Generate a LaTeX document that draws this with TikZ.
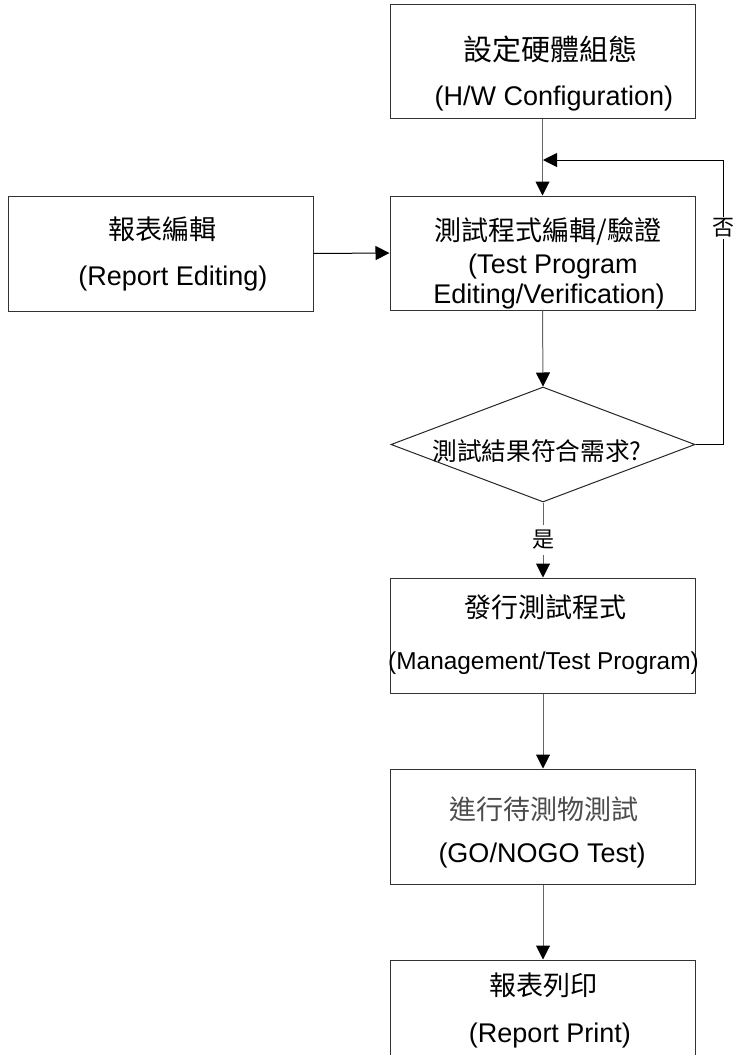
\documentclass[tikz,border=0pt]{standalone}
\usepackage{fontspec}
\setmainfont{Liberation Sans}
\newfontfamily\cjk{Noto Sans CJK TC}
\usetikzlibrary{arrows.meta,shapes.geometric}
\begin{document}
\begin{tikzpicture}[x=1pt,y=-1pt,
  box/.style={draw=black!80,line width=1pt,minimum width=305pt,minimum height=114pt,inner sep=0pt},
  dia/.style={draw=black!85,line width=1pt,diamond,minimum width=304pt,minimum height=115pt,inner sep=0pt},
  tx/.style={anchor=base,inner sep=0pt,font=\fontsize{27}{30}\selectfont},
  cj/.style={anchor=base,inner sep=0pt,font=\fontsize{27}{30}\selectfont\cjk},
  arr/.style={-{Triangle[length=14pt,width=14pt,color=black]},line width=1pt},
  vline/.style={draw=black!60},
  lab/.style={fill=white,inner sep=3pt,font=\fontsize{22}{24}\selectfont\cjk}
]
\useasboundingbox (0,0) rectangle (735,1055);
\fill[white] (0,0) rectangle (735,1055);

% boxes
\node[box] (b1) at (542.5,61.5) {};
\node[box] (b2) at (542.5,253) {};
\node[box,minimum height=115pt] (rep) at (160.5,253.5) {};
\node[dia] (dia) at (543,444.5) {};
\node[box,minimum height=115pt] (b3) at (543,635.5) {};
\node[box,minimum height=115pt] (b4) at (543,826.5) {};
\node[box,minimum height=115pt] (b5) at (543,1017.5) {};

% texts
\node[cj,font=\fontsize{29}{30}\selectfont\cjk] (t1a) at (550,60) {設定硬體組態};
\node[tx] (t1b) at (554,105) {(H/W Configuration)};
\node[cj] (t2a) at (548,240) {測試程式編輯/驗證};
\node[tx] (t2b) at (553,273) {(Test Program};
\node[tx] (t2c) at (549,303) {Editing/Verification)};
\node[cj] (tra) at (162,239) {報表編輯};
\node[tx] (trb) at (173,285) {(Report Editing)};
\node[cj,font=\fontsize{24.7}{26}\selectfont\cjk] (tda) at (537,460) {測試結果符合需求?};
\node[cj] (t3a) at (545,617) {發行測試程式};
\node[tx,font=\fontsize{24.4}{27}\selectfont] (t3b) at (543.5,669) {(Management/Test Program)};
\node[cj,text=black!70] (t4a) at (544,819) {進行待測物測試};
\node[tx] (t4b) at (542,862) {(GO/NOGO Test)};
\node[cj] (t5a) at (543,995) {報表列印};
\node[tx] (t5b) at (550,1042) {(Report Print)};

% connectors
\coordinate (fbtop) at (723,160);
\coordinate (j) at (543,160);
\draw[arr,vline] (b1.south) -- (b2.north);
\draw[arr] (rep.east) -- (b2.west);
\draw[arr,vline] (b2.south) -- (dia.north);
\draw[arr] (dia.east) -| (fbtop) -- (j);
\draw[arr,vline] (dia.south) -- (b3.north);
\draw[arr,vline] (b3.south) -- (b4.north);
\draw[arr,vline] (b4.south) -- (b5.north);

% labels on connectors
\node[lab,inner ysep=2pt] (no) at (723,228) {否};
\node[lab,inner ysep=5pt] (yes) at (543,540) {是};
\end{tikzpicture}
\end{document}
